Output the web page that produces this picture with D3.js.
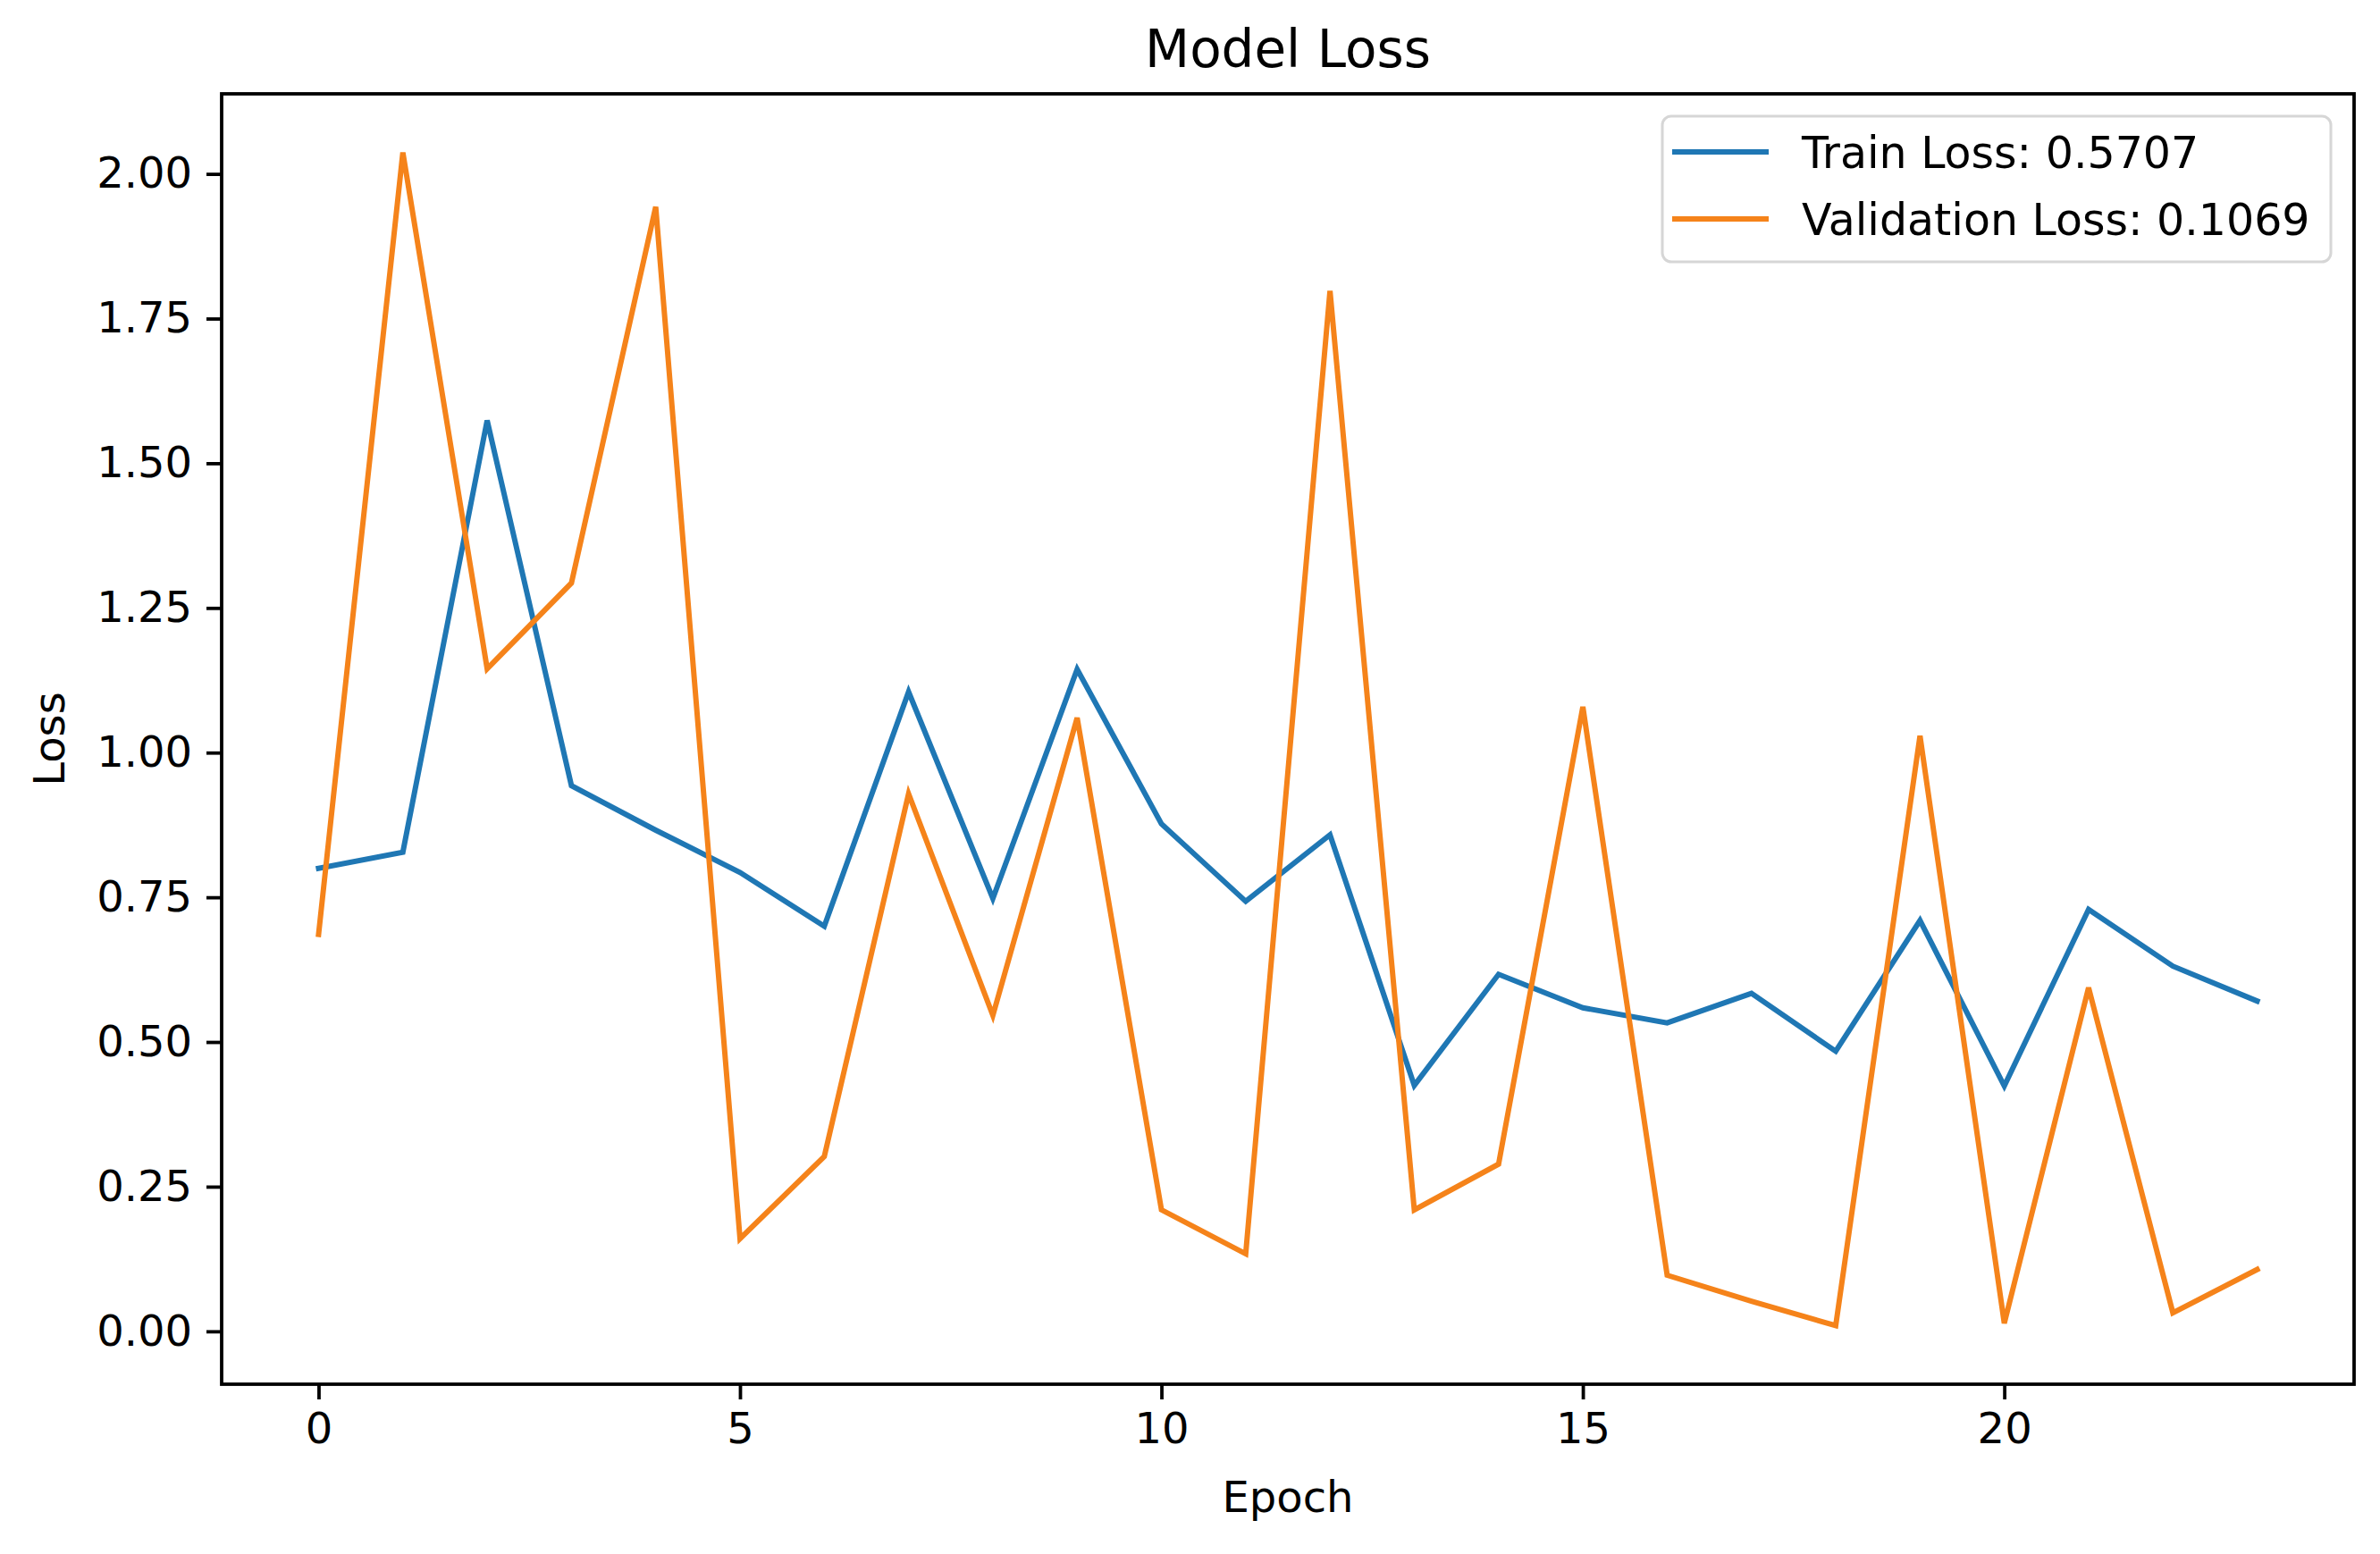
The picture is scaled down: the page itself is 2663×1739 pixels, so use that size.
<!DOCTYPE html>
<html>
<head>
<meta charset="utf-8">
<script src="https://cdn.jsdelivr.net/npm/d3@7"></script>
<style>
  body { margin: 0; background: #fff; }
  text { font-family: "DejaVu Sans", sans-serif; fill: #000; }
</style>
</head>
<body>
<div id="chart"></div>
<script>
// loss per epoch
var epochs = d3.range(0, 24);
var trainLoss = [0.800, 0.828, 1.574, 0.943, 0.866, 0.793, 0.700, 1.105, 0.748, 1.144, 0.877, 0.743,
                 0.858, 0.425, 0.617, 0.559, 0.533, 0.584, 0.484, 0.710, 0.424, 0.729, 0.631, 0.5707];
var valLoss = [0.686, 2.037, 1.145, 1.293, 1.943, 0.160, 0.302, 0.929, 0.546, 1.060, 0.210, 0.134,
               1.798, 0.210, 0.289, 1.079, 0.097, 0.052, 0.010, 1.029, 0.014, 0.594, 0.032, 0.1069];
var xTicks = [0, 5, 10, 15, 20];
var yTicks = [0, 0.25, 0.5, 0.75, 1.0, 1.25, 1.5, 1.75, 2.0];
var seriesNames = ["Train Loss: 0.5707", "Validation Loss: 0.1069"];
var seriesColors = ["#1f77b4", "#f5831a"];

var W = 2663, H = 1739;
var plotLeft = 248, plotRight = 2634, plotTop = 105, plotBottom = 1549;
var fs = 48;

function padded(ext) {
  var m = (ext[1] - ext[0]) * 0.05;
  return [ext[0] - m, ext[1] + m];
}

var x = d3.scaleLinear()
  .domain(padded(d3.extent(epochs)))
  .range([plotLeft, plotRight]);

var y = d3.scaleLinear()
  .domain(padded(d3.extent(trainLoss.concat(valLoss))))
  .range([plotBottom, plotTop]);

var svg = d3.select("#chart").append("svg")
  .attr("width", W)
  .attr("height", H);

svg.append("text")
  .attr("x", (plotLeft + plotRight) / 2)
  .attr("y", 75)
  .attr("text-anchor", "middle")
  .attr("font-size", 58)
  .text("Model Loss");

var xAxis = svg.append("g")
  .attr("transform", "translate(0," + plotBottom + ")")
  .call(d3.axisBottom(x).tickValues(xTicks).tickSize(17).tickPadding(15));

var yAxis = svg.append("g")
  .attr("transform", "translate(" + plotLeft + ",0)")
  .call(d3.axisLeft(y).tickValues(yTicks).tickFormat(d3.format(".2f")).tickSize(17).tickPadding(16));

[xAxis, yAxis].forEach(function(g) {
  g.select(".domain").remove();
  g.selectAll(".tick line").attr("stroke", "#000").attr("stroke-width", 3.8);
  g.selectAll(".tick text").attr("font-size", fs).attr("font-family", "DejaVu Sans").attr("fill", "#000");
});

svg.append("text")
  .attr("x", (plotLeft + plotRight) / 2)
  .attr("y", 1692)
  .attr("text-anchor", "middle")
  .attr("font-size", fs)
  .text("Epoch");

svg.append("text")
  .attr("transform", "translate(72," + (plotTop + plotBottom) / 2 + ") rotate(-90)")
  .attr("text-anchor", "middle")
  .attr("font-size", fs)
  .text("Loss");

var line = d3.line()
  .x(function(d, i) { return x(epochs[i]); })
  .y(function(d) { return y(d); });

[trainLoss, valLoss].forEach(function(s, k) {
  svg.append("path")
    .datum(s)
    .attr("d", line)
    .attr("fill", "none")
    .attr("stroke", seriesColors[k])
    .attr("stroke-width", 6)
    .attr("stroke-linejoin", "miter")
    .attr("stroke-linecap", "square");
});

// frame
svg.append("rect")
  .attr("x", plotLeft)
  .attr("y", plotTop)
  .attr("width", plotRight - plotLeft)
  .attr("height", plotBottom - plotTop)
  .attr("fill", "none")
  .attr("stroke", "#000")
  .attr("stroke-width", 3.8);

// legend
var legend = svg.append("g");
legend.append("rect")
  .attr("x", 1860)
  .attr("y", 130)
  .attr("width", 748)
  .attr("height", 163)
  .attr("rx", 10)
  .attr("fill", "#fff")
  .attr("fill-opacity", 0.8)
  .attr("stroke", "#d6d6d6")
  .attr("stroke-width", 3);

seriesNames.forEach(function(name, k) {
  var ly = 170 + k * 75;
  legend.append("line")
    .attr("x1", 1871).attr("x2", 1979)
    .attr("y1", ly).attr("y2", ly)
    .attr("stroke", seriesColors[k])
    .attr("stroke-width", 6);
  legend.append("text")
    .attr("x", 2016)
    .attr("y", ly + 18)
    .attr("font-size", 49)
    .text(name);
});
</script>
</body>
</html>
